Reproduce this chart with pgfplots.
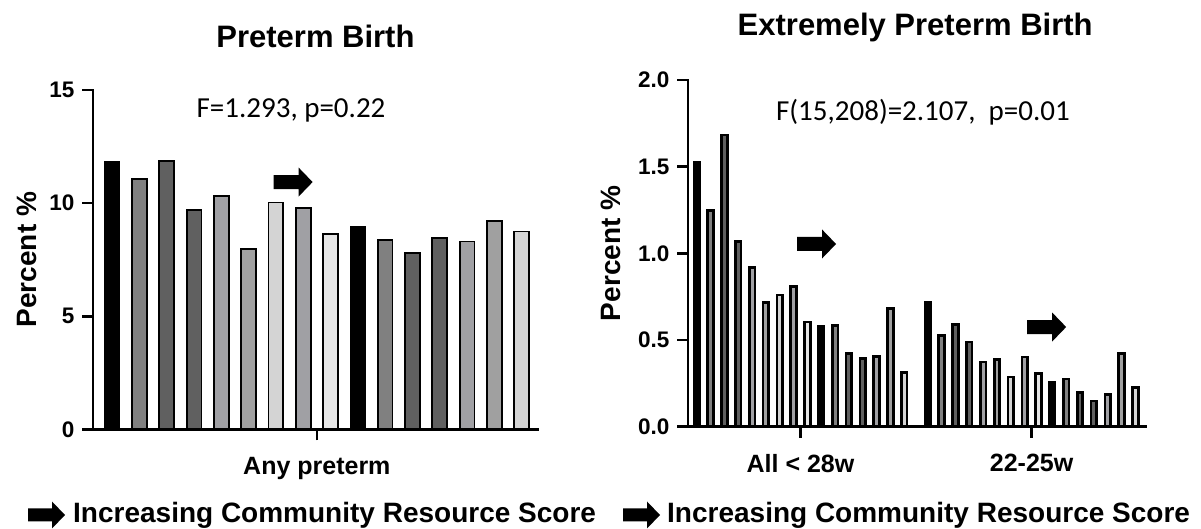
\documentclass[border=0pt]{standalone}
\usepackage{pgfplots}
\pgfplotsset{compat=1.18}
\usepackage{fontspec}
\setmainfont{Liberation Sans}
\newfontfamily\calib{Carlito}

\definecolor{cA}{HTML}{000000}
\definecolor{cB}{HTML}{808080}
\definecolor{cC}{HTML}{606060}
\definecolor{cD}{HTML}{A0A0A4}
\definecolor{cE}{HTML}{A0A0A0}
\definecolor{cF}{HTML}{D4D4D4}
\definecolor{cG}{HTML}{E6E6E6}

\pgfplotsset{
  common/.style={
    scale only axis, anchor=south west,
    axis x line*=bottom, axis y line*=left,
    axis line style={line width=2.7pt, line cap=rect},
    every tick/.style={black, line width=2.7pt},
    tick align=outside, major tick length=11pt,
    ymin=0, clip=false,
    tick label style={font=\fontsize{22.5}{24}\selectfont\bfseries},
    /pgf/number format/assume math mode=true,
    xticklabel style={font=\fontsize{25}{27}\selectfont\bfseries, yshift=-13pt},
    yticklabel style={xshift=-4pt},
    ylabel={Percent \%},
  },
  lbar/.style={ybar, bar shift=0pt, bar width=14.8pt, draw=black, line width=1.8pt, fill=#1},
  rbar/.style={ybar, bar shift=0pt, bar width=5.6pt, draw=black, line width=2.7pt, fill=#1},
}
% arrow drawn from its left-centre point
\newcommand{\fatarrow}{-- ++(0pt,7pt) -- ++(25pt,0pt) -- ++(0pt,7.5pt) -- ++(14pt,-14.5pt) -- ++(-14pt,-14.5pt) -- ++(0pt,7.5pt) -- ++(-25pt,0pt) -- cycle}

\begin{document}
\begin{tikzpicture}
\useasboundingbox (0,0) rectangle (1201pt,529pt);

% ---------------- left panel ----------------
\begin{axis}[common, at={(93pt,99.7pt)}, width=445pt, height=339.3pt,
  xmin=0.3, xmax=16.6, ymax=15, ytick={0,5,10,15},
  xtick={8.5}, xticklabels={Any preterm},
  every axis y label/.style={at={(axis description cs:-0.148,0.5)}, rotate=90, anchor=center, font=\fontsize{28}{30}\selectfont\bfseries}]
\addplot[lbar=cA] coordinates {(1,11.81) (10,8.93)};
\addplot[lbar=cB] coordinates {(2,11.08) (11,8.38)};
\addplot[lbar=cC] coordinates {(3,11.86) (4,9.71) (12,7.81) (13,8.44)};
\addplot[lbar=cD] coordinates {(5,10.31) (8,9.77) (14,8.30)};
\addplot[lbar=cE] coordinates {(6,7.98) (15,9.20)};
\addplot[lbar=cF] coordinates {(7,10.03) (16,8.74)};
\addplot[lbar=cG] coordinates {(9,8.64)};
\node[font=\fontsize{31}{33}\selectfont\bfseries] at (rel axis cs:0.5,1) [yshift=54pt] {Preterm Birth};
\node[font=\calib\fontsize{29}{31}\selectfont] at (rel axis cs:0.445,1) [yshift=-20pt] {F=1.293, p=0.22};
\fill (axis cs:7.63,10.93) ++(-19.5pt,0pt) \fatarrow;
\end{axis}

% ---------------- right panel ----------------
\begin{axis}[common, at={(688pt,102.3pt)}, width=458pt, height=346.7pt,
  xmin=0.37, xmax=33.47, ymax=2.0, ytick={0,0.5,1.0,1.5,2.0},
  yticklabel style={/pgf/number format/.cd, fixed, fixed zerofill, precision=1},
  xtick={8.5,25.2}, xticklabels={All < 28w, 22-25w},
  every axis y label/.style={at={(axis description cs:-0.168,0.5)}, rotate=90, anchor=center, font=\fontsize{28}{30}\selectfont\bfseries}]
\addplot[rbar=cA] coordinates {(1,1.523) (10,0.577) (17.7,0.715) (26.7,0.258)};
\addplot[rbar=cB] coordinates {(2,1.246) (11,0.585) (18.7,0.525) (27.7,0.275)};
\addplot[rbar=cC] coordinates {(3,1.683) (4,1.067) (12,0.423) (13,0.394) (19.7,0.590) (20.7,0.488) (28.7,0.198) (29.7,0.148)};
\addplot[rbar=cD] coordinates {(5,0.919) (8,0.810) (14,0.404) (21.7,0.373) (24.7,0.402) (30.7,0.185)};
\addplot[rbar=cE] coordinates {(6,0.715) (15,0.683) (22.7,0.387) (31.7,0.423)};
\addplot[rbar=cF] coordinates {(7,0.760) (16,0.313) (23.7,0.287) (32.7,0.225)};
\addplot[rbar=cG] coordinates {(9,0.604) (25.7,0.306)};
\node[font=\fontsize{31}{33}\selectfont\bfseries] at (rel axis cs:0.496,1) [yshift=53pt] {Extremely Preterm Birth};
\node[font=\calib\fontsize{29}{31}\selectfont] at (rel axis cs:0.513,1) [yshift=-32pt] {F(15,208)=2.107,\ \ p=0.01};
\fill (axis cs:9.66,1.054) ++(-19.5pt,0pt) \fatarrow;
\fill (axis cs:26.29,0.575) ++(-19.5pt,0pt) \fatarrow;
\end{axis}

% ---------------- bottom notes ----------------
\fill (28pt,14pt) -- ++(0pt,6.5pt) -- ++(24pt,0pt) -- ++(0pt,7pt) -- ++(13pt,-13.5pt) -- ++(-13pt,-13.5pt) -- ++(0pt,7pt) -- ++(-24pt,0pt) -- cycle;
\node[anchor=base west, inner sep=0pt, font=\fontsize{28}{30}\selectfont\bfseries] at (73pt,6pt) {Increasing Community Resource Score};
\fill (623pt,14pt) -- ++(0pt,6.5pt) -- ++(24pt,0pt) -- ++(0pt,7pt) -- ++(13pt,-13.5pt) -- ++(-13pt,-13.5pt) -- ++(0pt,7pt) -- ++(-24pt,0pt) -- cycle;
\node[anchor=base west, inner sep=0pt, font=\fontsize{28}{30}\selectfont\bfseries] at (667pt,6pt) {Increasing Community Resource Score};
\end{tikzpicture}
\end{document}
